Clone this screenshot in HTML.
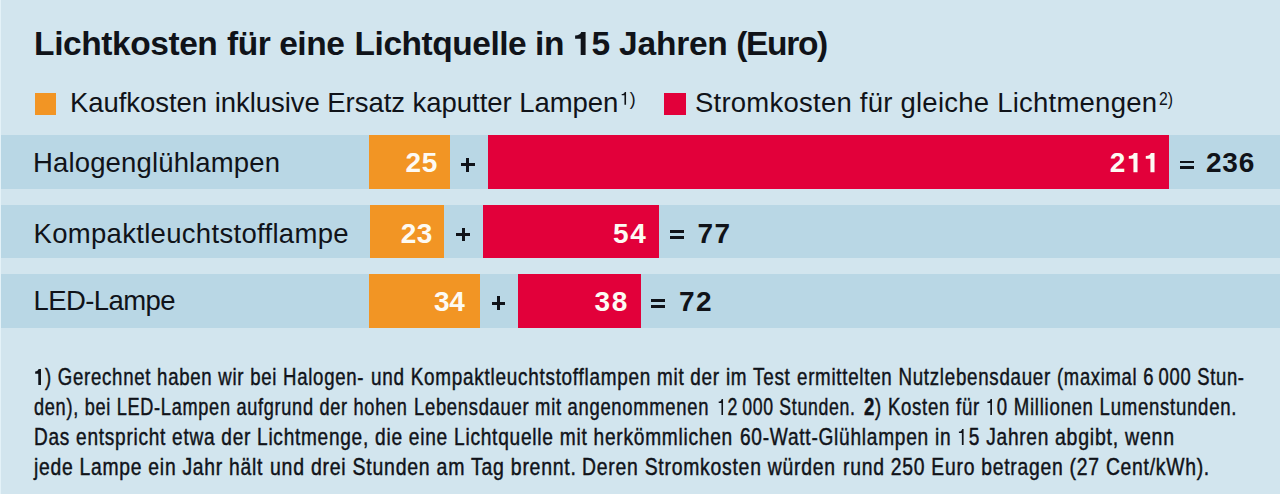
<!DOCTYPE html>
<html><head><meta charset="utf-8"><style>
html,body{margin:0;padding:0;}
body{width:1280px;height:494px;overflow:hidden;position:relative;background:#d2e5ee;font-family:"Liberation Sans",sans-serif;}
.r{position:absolute;}
.t{position:absolute;white-space:nowrap;line-height:1;}
.one{fill:currentColor;overflow:visible;margin-right:var(--ls);}
.edge{position:absolute;left:0;top:0;width:1px;height:494px;background:#e4f2f8;}
</style></head><body>
<div class="edge"></div>
<div class="r" style="left:1px;top:135px;width:1279px;height:54px;background:#b9d7e5;"></div>
<div class="r" style="left:1px;top:205px;width:1279px;height:53px;background:#b9d7e5;"></div>
<div class="r" style="left:1px;top:274px;width:1279px;height:54px;background:#b9d7e5;"></div>
<div class="r" style="left:369.4px;top:135px;width:80.8px;height:54px;background:#f29524;"></div>
<div class="r" style="left:488.1px;top:135px;width:680.9px;height:54px;background:#e2003a;"></div>
<div class="r" style="left:369.6px;top:205px;width:74.2px;height:53px;background:#f29524;"></div>
<div class="r" style="left:482.8px;top:205px;width:176.2px;height:53px;background:#e2003a;"></div>
<div class="r" style="left:369.4px;top:274px;width:110.6px;height:54px;background:#f29524;"></div>
<div class="r" style="left:518.0px;top:274px;width:123.0px;height:54px;background:#e2003a;"></div>
<div class="r" style="left:34.8px;top:93.0px;width:21.6px;height:21.6px;background:#f29524;"></div>
<div class="r" style="left:664.0px;top:92.9px;width:21.8px;height:21.8px;background:#e2003a;"></div>
<div class="r" style="left:460.6px;top:163.2px;width:14.0px;height:3.1px;background:#101319;"></div><div class="r" style="left:466.1px;top:157.9px;width:3.0px;height:13.8px;background:#101319;"></div>
<div class="r" style="left:455.9px;top:232.75px;width:14.0px;height:3.15px;background:#101319;"></div><div class="r" style="left:461.5px;top:227.6px;width:3.0px;height:13.3px;background:#101319;"></div>
<div class="r" style="left:491.5px;top:301.5px;width:13.9px;height:3.4px;background:#101319;"></div><div class="r" style="left:496.7px;top:296.2px;width:3.2px;height:13.4px;background:#101319;"></div>
<div class="r" style="left:1180px;top:160.6px;width:14px;height:2.8px;background:#101319;"></div><div class="r" style="left:1180px;top:166.4px;width:14px;height:2.9px;background:#101319;"></div>
<div class="r" style="left:670px;top:230.0px;width:14px;height:2.9px;background:#101319;"></div><div class="r" style="left:670px;top:235.9px;width:14px;height:2.8px;background:#101319;"></div>
<div class="r" style="left:650.9px;top:298.8px;width:14.1px;height:2.9px;background:#101319;"></div><div class="r" style="left:650.9px;top:304.7px;width:14.1px;height:2.9px;background:#101319;"></div>
<div class="t" style="left:34.1px;top:27.4px;font-size:33.5px;font-weight:bold;letter-spacing:-0.43px;--ls:-0.43px;color:#101319;">Lichtkosten</div>
<div class="t" style="left:227.0px;top:27.4px;font-size:33.5px;font-weight:bold;letter-spacing:-0.457px;--ls:-0.457px;color:#101319;">für eine</div>
<div class="t" style="left:354.6px;top:27.4px;font-size:33.5px;font-weight:bold;letter-spacing:-0.469px;--ls:-0.469px;color:#101319;">Lichtquelle in</div>
<div class="t" style="left:573.2px;top:27.4px;font-size:33.5px;font-weight:bold;letter-spacing:-0.225px;--ls:-0.225px;color:#101319;"><svg class="one" viewBox="0 -1409 1139 1409" style="width:0.5562em;height:0.688em"><path transform="scale(1,-1)" d="M470,0V990H130V1190C330,1200 470,1270 500,1409H770V0Z"/></svg>5 Jahren</div>
<div class="t" style="left:736.2px;top:27.4px;font-size:33.5px;font-weight:bold;letter-spacing:-1.32px;--ls:-1.32px;color:#101319;">(Euro)</div>
<div class="t" style="left:69.9px;top:89.4px;font-size:27.5px;font-weight:normal;letter-spacing:-0.043px;--ls:-0.043px;color:#101319;">Kaufkosten inklusive Ersatz kaputter Lampen</div>
<div class="t" style="left:695.0px;top:89.4px;font-size:27.5px;font-weight:normal;letter-spacing:0.235px;--ls:0.235px;color:#101319;">Stromkosten für gleiche Lichtmengen</div>
<div class="t" style="left:33.0px;top:148.8px;font-size:27.5px;font-weight:normal;letter-spacing:0.15px;--ls:0.15px;color:#101319;">Halogenglühlampen</div>
<div class="t" style="left:33.5px;top:220.0px;font-size:27.5px;font-weight:normal;letter-spacing:0.309px;--ls:0.309px;color:#101319;">Kompaktleuchtstofflampe</div>
<div class="t" style="left:33.5px;top:286.8px;font-size:27.5px;font-weight:normal;letter-spacing:-0.575px;--ls:-0.575px;color:#101319;">LED-Lampe</div>
<div class="t" style="left:405.4px;top:149.0px;font-size:28.0px;font-weight:bold;letter-spacing:0.8px;--ls:0.8px;color:#fdfaf3;">25</div>
<div class="t" style="left:1109.75px;top:149.0px;font-size:28.0px;font-weight:bold;letter-spacing:1.475px;--ls:1.475px;color:#fdfaf3;">2<svg class="one" viewBox="0 -1409 1139 1409" style="width:0.5562em;height:0.688em"><path transform="scale(1,-1)" d="M470,0V990H130V1190C330,1200 470,1270 500,1409H770V0Z"/></svg><svg class="one" viewBox="0 -1409 1139 1409" style="width:0.5562em;height:0.688em"><path transform="scale(1,-1)" d="M470,0V990H130V1190C330,1200 470,1270 500,1409H770V0Z"/></svg></div>
<div class="t" style="left:1206.0px;top:149.0px;font-size:28.0px;font-weight:bold;letter-spacing:0.75px;--ls:0.75px;color:#101319;">236</div>
<div class="t" style="left:400.8px;top:220.1px;font-size:28.0px;font-weight:bold;letter-spacing:0.5px;--ls:0.5px;color:#fdfaf3;">23</div>
<div class="t" style="left:612.9px;top:220.1px;font-size:28.0px;font-weight:bold;letter-spacing:1.7px;--ls:1.7px;color:#fdfaf3;">54</div>
<div class="t" style="left:697.5px;top:220.1px;font-size:28.0px;font-weight:bold;letter-spacing:1.4px;--ls:1.4px;color:#101319;">77</div>
<div class="t" style="left:433.9px;top:287.5px;font-size:28.0px;font-weight:bold;letter-spacing:-0.2px;--ls:-0.2px;color:#fdfaf3;">34</div>
<div class="t" style="left:594.5px;top:287.5px;font-size:28.0px;font-weight:bold;letter-spacing:1.6px;--ls:1.6px;color:#fdfaf3;">38</div>
<div class="t" style="left:678.9px;top:287.5px;font-size:28.0px;font-weight:bold;letter-spacing:1.5px;--ls:1.5px;color:#101319;">72</div>
<div class="t" style="left:33.7px;top:365.8px;font-size:23.25px;font-weight:normal;letter-spacing:0.9px;--ls:0.9px;color:#101319;transform:scaleX(0.8002);transform-origin:0 0;-webkit-text-stroke:0.45px currentColor;"><b><svg class="one" viewBox="0 -1409 1139 1409" style="width:0.5562em;height:0.688em"><path transform="scale(1,-1)" d="M470,0V990H130V1190C330,1200 470,1270 500,1409H770V0Z"/></svg></b>) Gerechnet haben wir bei Halogen-</div>
<div class="t" style="left:370.6px;top:365.8px;font-size:23.25px;font-weight:normal;letter-spacing:0.9px;--ls:0.9px;color:#101319;transform:scaleX(0.8138);transform-origin:0 0;-webkit-text-stroke:0.45px currentColor;">und Kompaktleuchtstofflampen mit der im Test</div>
<div class="t" style="left:796.6px;top:365.8px;font-size:23.25px;font-weight:normal;letter-spacing:0.9px;--ls:0.9px;color:#101319;transform:scaleX(0.8061);transform-origin:0 0;-webkit-text-stroke:0.45px currentColor;">ermittelten Nutzlebensdauer</div>
<div class="t" style="left:1057.4px;top:365.8px;font-size:23.25px;font-weight:normal;letter-spacing:0.9px;--ls:0.9px;color:#101319;transform:scaleX(0.7915);transform-origin:0 0;-webkit-text-stroke:0.45px currentColor;">(maximal 6&#8201;000 Stun-</div>
<div class="t" style="left:34.1px;top:396.0px;font-size:23.25px;font-weight:normal;letter-spacing:0.9px;--ls:0.9px;color:#101319;transform:scaleX(0.7807);transform-origin:0 0;-webkit-text-stroke:0.45px currentColor;">den), bei LED-Lampen aufgrund der hohen</div>
<div class="t" style="left:414.3px;top:396.0px;font-size:23.25px;font-weight:normal;letter-spacing:0.9px;--ls:0.9px;color:#101319;transform:scaleX(0.7914);transform-origin:0 0;-webkit-text-stroke:0.45px currentColor;">Lebensdauer mit angenommenen</div>
<div class="t" style="left:717.4px;top:396.0px;font-size:23.25px;font-weight:normal;letter-spacing:0.9px;--ls:0.9px;color:#101319;transform:scaleX(0.7596);transform-origin:0 0;-webkit-text-stroke:0.45px currentColor;"><svg class="one" viewBox="0 -1409 1139 1409" style="width:0.5562em;height:0.688em"><path transform="scale(1,-1)" d="M515,0V1050H197V1180C400,1190 520,1260 545,1409H700V0Z"/></svg>2&#8201;000 Stunden.</div>
<div class="t" style="left:863.6px;top:396.0px;font-size:23.25px;font-weight:normal;letter-spacing:0.9px;--ls:0.9px;color:#101319;transform:scaleX(0.8002);transform-origin:0 0;-webkit-text-stroke:0.45px currentColor;"><b>2</b>) Kosten für <svg class="one" viewBox="0 -1409 1139 1409" style="width:0.5562em;height:0.688em"><path transform="scale(1,-1)" d="M515,0V1050H197V1180C400,1190 520,1260 545,1409H700V0Z"/></svg>0 Millionen Lumenstunden.</div>
<div class="t" style="left:33.7px;top:425.9px;font-size:23.25px;font-weight:normal;letter-spacing:0.9px;--ls:0.9px;color:#101319;transform:scaleX(0.8192);transform-origin:0 0;-webkit-text-stroke:0.45px currentColor;">Das entspricht etwa der Lichtmenge,</div>
<div class="t" style="left:374.8px;top:425.9px;font-size:23.25px;font-weight:normal;letter-spacing:0.9px;--ls:0.9px;color:#101319;transform:scaleX(0.8233);transform-origin:0 0;-webkit-text-stroke:0.45px currentColor;">die eine Lichtquelle mit herkömmlichen</div>
<div class="t" style="left:739.7px;top:425.9px;font-size:23.25px;font-weight:normal;letter-spacing:0.9px;--ls:0.9px;color:#101319;transform:scaleX(0.8222);transform-origin:0 0;-webkit-text-stroke:0.45px currentColor;">60-Watt-Glühlampen in <svg class="one" viewBox="0 -1409 1139 1409" style="width:0.5562em;height:0.688em"><path transform="scale(1,-1)" d="M515,0V1050H197V1180C400,1190 520,1260 545,1409H700V0Z"/></svg>5 Jahren</div>
<div class="t" style="left:1054.7px;top:425.9px;font-size:23.25px;font-weight:normal;letter-spacing:0.9px;--ls:0.9px;color:#101319;transform:scaleX(0.8394);transform-origin:0 0;-webkit-text-stroke:0.45px currentColor;">abgibt, wenn</div>
<div class="t" style="left:34.3px;top:455.9px;font-size:23.25px;font-weight:normal;letter-spacing:0.9px;--ls:0.9px;color:#101319;transform:scaleX(0.8296);transform-origin:0 0;-webkit-text-stroke:0.45px currentColor;">jede Lampe ein Jahr hält</div>
<div class="t" style="left:269.9px;top:455.9px;font-size:23.25px;font-weight:normal;letter-spacing:0.9px;--ls:0.9px;color:#101319;transform:scaleX(0.8377);transform-origin:0 0;-webkit-text-stroke:0.45px currentColor;">und drei Stunden am Tag brennt.</div>
<div class="t" style="left:582.4px;top:455.9px;font-size:23.25px;font-weight:normal;letter-spacing:0.9px;--ls:0.9px;color:#101319;transform:scaleX(0.8334);transform-origin:0 0;-webkit-text-stroke:0.45px currentColor;">Deren Stromkosten würden</div>
<div class="t" style="left:842.5px;top:455.9px;font-size:23.25px;font-weight:normal;letter-spacing:0.9px;--ls:0.9px;color:#101319;transform:scaleX(0.8308);transform-origin:0 0;-webkit-text-stroke:0.45px currentColor;">rund 250 Euro betragen (27 Cent/kWh).</div>
<div class="t" style="left:620.2px;top:89.8px;font-size:18.5px;font-weight:normal;letter-spacing:0.0px;--ls:0.0px;color:#101319;transform:scaleX(0.9578);transform-origin:0 0;"><svg class="one" viewBox="0 -1409 1139 1409" style="width:0.5562em;height:0.688em"><path transform="scale(1,-1)" d="M515,0V1050H197V1180C400,1190 520,1260 545,1409H700V0Z"/></svg>)</div>
<div class="t" style="left:1159.2px;top:90.2px;font-size:18.5px;font-weight:normal;letter-spacing:0.0px;--ls:0.0px;color:#101319;transform:scaleX(0.8556);transform-origin:0 0;">2)</div>
</body></html>
